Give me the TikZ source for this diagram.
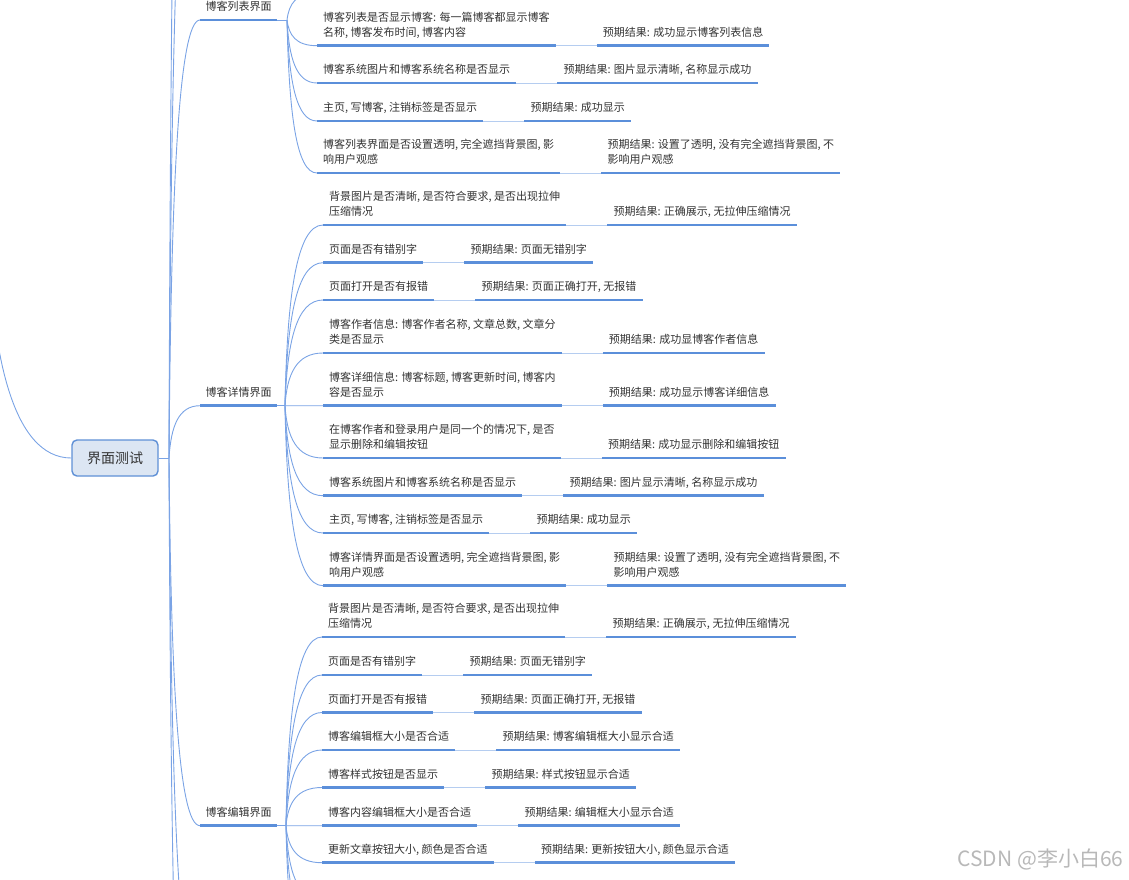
\documentclass[tikz,border=0pt]{standalone}
\usepackage{fontspec}
\setmainfont{Noto Sans CJK SC}
\usetikzlibrary{calc}
\definecolor{ulc}{HTML}{5B8FDA}
\definecolor{lnk}{HTML}{7AA3E5}
\definecolor{gapc}{HTML}{B5CDF0}
\definecolor{txt}{HTML}{333333}
\definecolor{rootfill}{HTML}{DCE6F3}
\definecolor{rootdraw}{HTML}{5F90D6}
\tikzset{
  topic/.style={font=\fontsize{11pt}{15.5pt}\selectfont, text=txt, inner xsep=6pt,
    inner ysep=6.5pt, text depth=2.5pt, anchor=south west, align=left},
  branch/.style={topic, inner xsep=5.5pt},
  rootbox/.style={font=\fontsize{14pt}{16pt}\selectfont, text=txt, minimum width=86pt,
    minimum height=36pt, rounded corners=5pt, fill=rootfill, draw=rootdraw, line width=1.4pt},
  ul/.style={line width=2.5pt, draw=ulc},
  link/.style={line width=0.9pt, draw=lnk},
  gap/.style={line width=1pt, draw=gapc},
  wmark/.style={font=\fontsize{21pt}{22pt}\selectfont, text=black!28, anchor=east},
}
% smooth curve from #1 (fan origin) to #2 (child point)
\newcommand\curvelink[2]{%
  \draw[link] (#1) .. controls ($(#1)!0.6!(#1 |- #2) + (2,0)$) and ($(#1 |- #2)!0.3!(#2)$) .. (#2);
}
% #1 name, #2 fan origin, #3 x, #4 y, #5 text, #6 result
\newcommand\tcase[6]{%
  \node[topic] (#1) at (#3,#4) {#5};
  \node[topic] (#1r) at ([xshift=41pt]#1.south east) {#6};
  \draw[ul] (#1.south west) -- (#1.south east);
  \draw[ul] (#1r.south west) -- (#1r.south east);
  \draw[gap] (#1.south east) -- (#1r.south west);
  \curvelink{#2}{#1.south west}
}
\begin{document}
\begin{tikzpicture}[x=1pt,y=-1pt]
\useasboundingbox (0,0) rectangle (1129,879);
\clip (0,0) rectangle (1129,879);

% root
\node[rootbox] (root) at (115,458) {界面测试};
\coordinate (par) at (-12,200);
\draw[link] (par) .. controls ($(par)!0.6!(par |- root.west)$) and ($(par |- root.west)!0.3!(root.west)$) .. (root.west);
\coordinate (tr) at (169,458);
\draw[link] (root.east) -- (tr);

% off-canvas branches
\coordinate (up1) at (200,-250);
\coordinate (up2) at (200,-600);
\coordinate (dn1) at (200,1000);
\coordinate (dn2) at (200,1250);
\curvelink{tr}{up1}
\curvelink{tr}{up2}
\curvelink{tr}{dn1}
\curvelink{tr}{dn2}

% branch 1
\node[branch] (b1) at (200,20) {博客列表界面};
\draw[ul] (b1.south west) -- (b1.south east);
\curvelink{tr}{b1.south west}
\coordinate (f1) at (287,20);
\draw[link] (b1.south east) -- (f1);
\coordinate (c0) at (317,-7);
\curvelink{f1}{c0}
\tcase{c1}{f1}{317}{45.7}{博客列表是否显示博客: 每一篇博客都显示博客\\名称, 博客发布时间, 博客内容}{预期结果: 成功显示博客列表信息}
\tcase{c2}{f1}{317}{83}{博客系统图片和博客系统名称是否显示}{预期结果: 图片显示清晰, 名称显示成功}
\tcase{c3}{f1}{317}{121}{主页, 写博客, 注销标签是否显示}{预期结果: 成功显示}
\tcase{c4}{f1}{317}{173}{博客列表界面是否设置透明, 完全遮挡背景图, 影\\响用户观感}{预期结果: 设置了透明, 没有完全遮挡背景图, 不\\影响用户观感}

% branch 2
\node[branch] (b2) at (200,405.7) {博客详情界面};
\draw[ul] (b2.south west) -- (b2.south east);
\curvelink{tr}{b2.south west}
\coordinate (f2) at (285,405.7);
\draw[link] (b2.south east) -- (f2);
\tcase{d1}{f2}{323}{225}{背景图片是否清晰, 是否符合要求, 是否出现拉伸\\压缩情况}{预期结果: 正确展示, 无拉伸压缩情况}
\tcase{d2}{f2}{323}{262.7}{页面是否有错别字}{预期结果: 页面无错别字}
\tcase{d3}{f2}{323}{300}{页面打开是否有报错}{预期结果: 页面正确打开, 无报错}
\tcase{d4}{f2}{323}{353}{博客作者信息: 博客作者名称, 文章总数, 文章分\\类是否显示}{预期结果: 成功显博客作者信息}
\tcase{d5}{f2}{323}{405.7}{博客详细信息: 博客标题, 博客更新时间, 博客内\\容是否显示}{预期结果: 成功显示博客详细信息}
\tcase{d6}{f2}{323}{458}{在博客作者和登录用户是同一个的情况下, 是否\\显示删除和编辑按钮}{预期结果: 成功显示删除和编辑按钮}
\tcase{d7}{f2}{323}{495.7}{博客系统图片和博客系统名称是否显示}{预期结果: 图片显示清晰, 名称显示成功}
\tcase{d8}{f2}{323}{533}{主页, 写博客, 注销标签是否显示}{预期结果: 成功显示}
\tcase{d9}{f2}{323}{585.7}{博客详情界面是否设置透明, 完全遮挡背景图, 影\\响用户观感}{预期结果: 设置了透明, 没有完全遮挡背景图, 不\\影响用户观感}

% branch 3
\node[branch] (b3) at (200,825.7) {博客编辑界面};
\draw[ul] (b3.south west) -- (b3.south east);
\curvelink{tr}{b3.south west}
\coordinate (f3) at (286,825.7);
\draw[link] (b3.south east) -- (f3);
\tcase{e1}{f3}{322}{637}{背景图片是否清晰, 是否符合要求, 是否出现拉伸\\压缩情况}{预期结果: 正确展示, 无拉伸压缩情况}
\tcase{e2}{f3}{322}{675}{页面是否有错别字}{预期结果: 页面无错别字}
\tcase{e3}{f3}{322}{712.5}{页面打开是否有报错}{预期结果: 页面正确打开, 无报错}
\tcase{e4}{f3}{322}{750}{博客编辑框大小是否合适}{预期结果: 博客编辑框大小显示合适}
\tcase{e5}{f3}{322}{787.5}{博客样式按钮是否显示}{预期结果: 样式按钮显示合适}
\tcase{e6}{f3}{322}{825.7}{博客内容编辑框大小是否合适}{预期结果: 编辑框大小显示合适}
\tcase{e7}{f3}{322}{862.7}{更新文章按钮大小, 颜色是否合适}{预期结果: 更新按钮大小, 颜色显示合适}
\coordinate (e8) at (322,900);
\coordinate (e9) at (322,937);
\coordinate (e10) at (322,990);
\curvelink{f3}{e8}
\curvelink{f3}{e9}
\curvelink{f3}{e10}

% watermark
\node[wmark] (wm) at (1127,859) {CSDN @李小白66};
\end{tikzpicture}
\end{document}
